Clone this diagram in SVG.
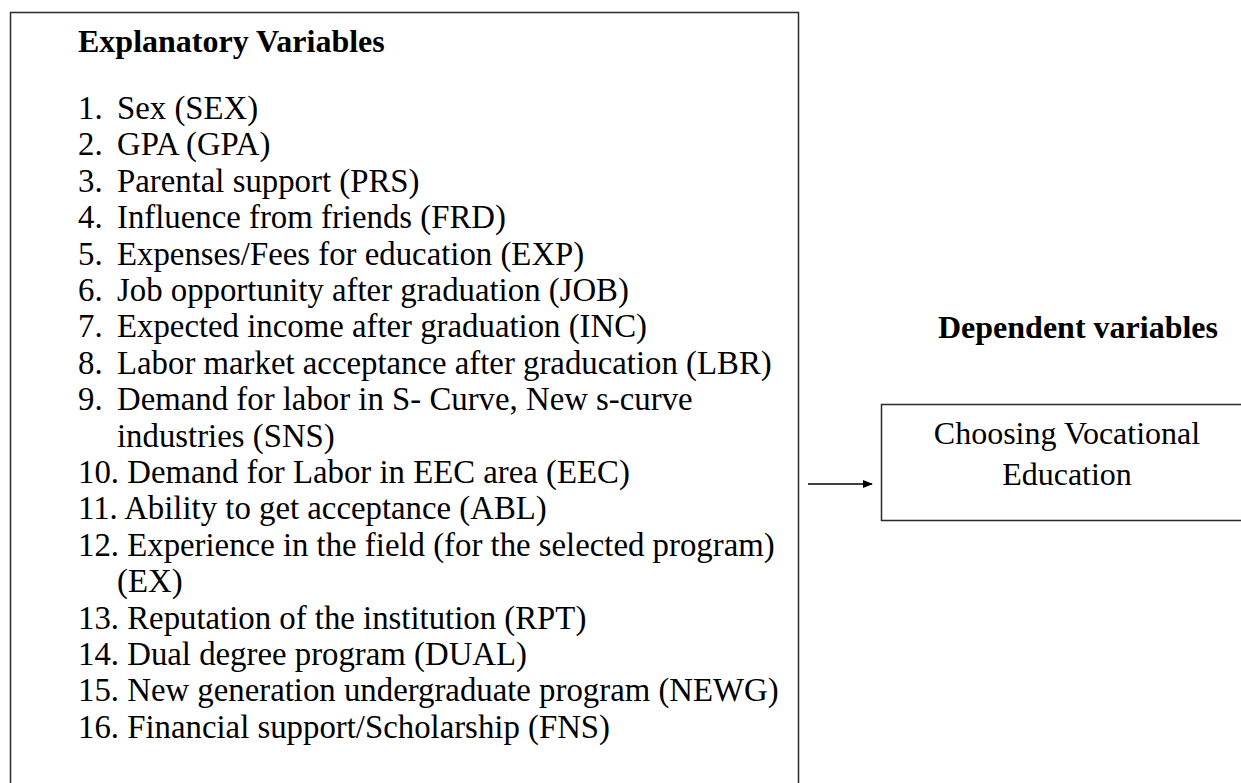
<svg xmlns="http://www.w3.org/2000/svg" width="1241" height="783" viewBox="0 0 1241 783">
<style>
.t{font-family:"Liberation Serif","Times New Roman",serif;font-size:32px;fill:#000}
.i{font-size:32.8px}
.b{font-weight:bold}
.box{fill:none;stroke:#2b2b2b;stroke-width:1.5}
.c{text-anchor:middle}
</style>
<defs>
<marker id="ah" markerWidth="10" markerHeight="8" refX="9" refY="4" orient="auto" markerUnits="userSpaceOnUse">
<path d="M0,0 L10,4 L0,8 Z" fill="#000"/>
</marker>
</defs>
<rect width="1241" height="783" fill="#fff"/>
<g id="explanatory">
<path class="box" d="M10.5,790 V12.5 H798.5 V790"/>
<text class="t b" x="78" y="52">Explanatory Variables</text>
<g class="t i">
<text x="78" y="119">1.</text><text x="117" y="119">Sex (SEX)</text>
<text x="78" y="155.4">2.</text><text x="117" y="155.4">GPA (GPA)</text>
<text x="78" y="191.8">3.</text><text x="117" y="191.8">Parental support (PRS)</text>
<text x="78" y="228.2">4.</text><text x="117" y="228.2">Influence from friends (FRD)</text>
<text x="78" y="264.6">5.</text><text x="117" y="264.6">Expenses/Fees for education (EXP)</text>
<text x="78" y="301">6.</text><text x="117" y="301">Job opportunity after graduation (JOB)</text>
<text x="78" y="337.4">7.</text><text x="117" y="337.4">Expected income after graduation (INC)</text>
<text x="78" y="373.8">8.</text><text x="117" y="373.8">Labor market acceptance after graducation (LBR)</text>
<text x="78" y="410.2">9.</text><text x="117" y="410.2">Demand for labor in S- Curve, New s-curve</text>
<text x="117" y="446.6">industries (SNS)</text>
<text x="78" y="483">10. Demand for Labor in EEC area (EEC)</text>
<text x="78" y="519.4">11. Ability to get acceptance (ABL)</text>
<text x="78" y="555.8">12. Experience in the field (for the selected program)</text>
<text x="117" y="592.2">(EX)</text>
<text x="78" y="628.6">13. Reputation of the institution (RPT)</text>
<text x="78" y="665">14. Dual degree program (DUAL)</text>
<text x="78" y="701.4">15. New generation undergraduate program (NEWG)</text>
<text x="78" y="737.8">16. Financial support/Scholarship (FNS)</text>
</g>
</g>
<g id="dependent-label">
<text class="t b c" x="1078" y="338">Dependent variables</text>
</g>
<g id="choosing">
<path class="box" d="M1250,404.5 H881.5 V520.5 H1250"/>
<text class="t c" x="1067" y="444">Choosing Vocational</text>
<text class="t c" x="1067" y="485">Education</text>
</g>
<g id="connectors">
<line x1="808" y1="484" x2="872" y2="484" stroke="#000" stroke-width="1.5" marker-end="url(#ah)"/>
</g>
</svg>
